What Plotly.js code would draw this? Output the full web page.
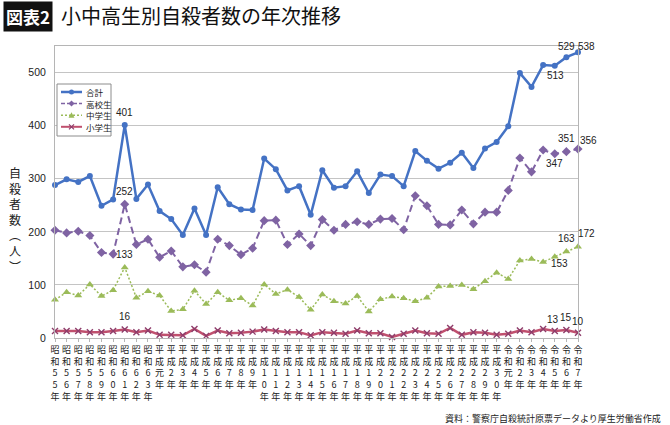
<!DOCTYPE html>
<html>
<head>
<meta charset="utf-8">
<script src="https://cdn.plot.ly/plotly-3.0.1.min.js"></script>
<style>
  html, body { margin: 0; padding: 0; background: #fff; }
  #chart { width: 670px; height: 425px; }
</style>
</head>
<body>
<div id="chart"></div>
<script>
// Years on the horizontal axis (Japanese era names)
const years = [
  '昭和55年','昭和56年','昭和57年','昭和58年','昭和59年','昭和60年','昭和61年','昭和62年','昭和63年',
  '平成元年','平成2年','平成3年','平成4年','平成5年','平成6年','平成7年','平成8年','平成9年','平成10年',
  '平成11年','平成12年','平成13年','平成14年','平成15年','平成16年','平成17年','平成18年','平成19年','平成20年',
  '平成21年','平成22年','平成23年','平成24年','平成25年','平成26年','平成27年','平成28年','平成29年','平成30年',
  '令和元年','令和2年','令和3年','令和4年','令和5年','令和6年','令和7年'
];

// Number of suicides per year
const total = [
  288, 299, 294, 305, 249, 261, 401, 262, 289,
  239, 224, 194, 244, 194, 284, 252, 242, 241, 338,
  318, 278, 286, 232, 316, 283, 286, 314, 273, 308,
  305, 286, 352, 334, 319, 330, 349, 320, 357, 369,
  399, 499, 473, 514, 513, 529, 538
];
const highSchool = [
  203, 198, 201, 193, 161, 158, 252, 176, 186,
  152, 164, 134, 138, 124, 186, 174, 157, 169, 221,
  222, 176, 196, 174, 223, 203, 214, 219, 214, 224,
  225, 204, 268, 249, 214, 213, 241, 215, 237, 237,
  278, 339, 313, 354, 347, 351, 356
];
const juniorHigh = [
  72, 86, 80, 101, 79, 90, 133, 76, 88,
  80, 51, 54, 89, 64, 86, 71, 75, 61, 101,
  83, 91, 77, 53, 82, 69, 65, 79, 50, 73,
  78, 75, 69, 76, 97, 98, 100, 92, 107, 123,
  111, 146, 149, 143, 153, 163, 172
];
const elementary = [
  13, 13, 13, 11, 11, 13, 16, 11, 14,
  6, 6, 5, 17, 4, 14, 9, 10, 12, 16,
  13, 11, 11, 5, 11, 10, 8, 14, 9, 9,
  2, 8, 14, 9, 8, 19, 6, 11, 10, 6,
  8, 14, 11, 17, 13, 15, 10
];

const seriesNames = ['合計', '高校生', '中学生', '小学生'];

// Vertical tick text: one character per line
const tickText = years.map(s => s.split('').join('<br>'));

const C_TOTAL = '#4472c4';
const C_HIGH = '#7f63a3';
const C_JR = '#9bbb59';
const C_ELEM = '#c0506e';
const C_ELEM_MK = '#8e3d6b';

const NUM_FONT = 'Liberation Sans Narrow, Liberation Sans, Arial, sans-serif';
const JP_FONT = 'Noto Sans CJK JP, Noto Sans, sans-serif';

const seriesValues = [total, highSchool, juniorHigh, elementary];

const traces = [
  {
    x: years, y: total, name: seriesNames[0], type: 'scatter', mode: 'lines+markers',
    line: { color: C_TOTAL, width: 2.5 },
    marker: { symbol: 'circle', size: 6, color: C_TOTAL },
    cliponaxis: false
  },
  {
    x: years, y: highSchool, name: seriesNames[1], type: 'scatter', mode: 'lines+markers',
    line: { color: C_HIGH, width: 2, dash: '7px,4px' },
    marker: { symbol: 'diamond', size: 7, color: C_HIGH },
    cliponaxis: false
  },
  {
    x: years, y: juniorHigh, name: seriesNames[2], type: 'scatter', mode: 'lines+markers',
    line: { color: C_JR, width: 1.5, dash: '2px,2px' },
    marker: { symbol: 'triangle-up', size: 7, color: C_JR },
    cliponaxis: false
  },
  {
    x: years, y: elementary, name: seriesNames[3], type: 'scatter', mode: 'lines+markers',
    line: { color: C_ELEM, width: 2.5 },
    marker: { symbol: 'x-thin', size: 6, color: C_ELEM_MK, line: { width: 1.4, color: C_ELEM_MK } },
    cliponaxis: false
  }
];

// Value labels: [series index, year index, xshift, yshift]
const valueLabels = [
  [0, 6, 0, 13], [1, 6, 0, 13], [2, 6, 0, 13], [3, 6, 0, 13],
  [0, 43, 1, -10], [0, 44, 0, 11], [0, 45, 8, 6],
  [1, 43, 0, -10], [1, 44, 0, 13], [1, 45, 10, 9],
  [2, 43, 5, -7], [2, 44, 0, 13], [2, 45, 8, 13],
  [3, 43, -2, 12], [3, 44, 0, 13], [3, 45, 0, 11]
];

// Plot-area pixel frame, used for placing page decorations
const L = 55, R = 578, T = 46, B = 338;
const px = x => (x - L) / (R - L);
const py = y => (B - y) / (B - T);

const annotations = valueLabels.map(([s, i, xs, ys]) => ({
  x: years[i], y: seriesValues[s][i], xref: 'x', yref: 'y',
  text: String(seriesValues[s][i]), showarrow: false,
  xshift: xs, yshift: ys,
  font: { family: NUM_FONT, size: 10, color: '#222' }
}));

// Heading badge
annotations.push({
  xref: 'paper', yref: 'paper', x: px(3), y: py(17), xanchor: 'left', yanchor: 'middle',
  text: '<b>図表2</b>', showarrow: false, bgcolor: '#111', borderpad: 2,
  font: { family: JP_FONT, size: 17, color: '#fff' }
});
// Vertical axis title
annotations.push({
  xref: 'paper', yref: 'paper', x: px(15), y: py(219), xanchor: 'center', yanchor: 'middle',
  text: '自<br>殺<br>者<br>数<br>︵<br>人<br>︶', showarrow: false,
  font: { family: JP_FONT, size: 12, color: '#222' }
});
// Source note
annotations.push({
  xref: 'paper', yref: 'paper', x: px(663), y: py(418), xanchor: 'right', yanchor: 'middle',
  text: '資料：警察庁自殺統計原票データより厚生労働省作成', showarrow: false,
  font: { family: JP_FONT, size: 9, color: '#222' }
});

// Legend box
const shapes = [{
  type: 'rect', xref: 'paper', yref: 'paper', layer: 'above',
  x0: px(57), x1: px(111), y0: py(136), y1: py(84),
  line: { color: '#8c8c8c', width: 1 }, fillcolor: '#fff'
}];
const legendRows = [92, 103.6, 115.2, 126.8];
const legendStyles = [
  { color: C_TOTAL, width: 2.5, dash: 'solid' },
  { color: C_HIGH, width: 1.5, dash: '4px,2px' },
  { color: C_JR, width: 1.5, dash: '2px,2px' },
  { color: C_ELEM, width: 2, dash: 'solid' }
];
legendRows.forEach((y, k) => {
  shapes.push({
    type: 'line', xref: 'paper', yref: 'paper', layer: 'above',
    x0: px(61), x1: px(82), y0: py(y), y1: py(y),
    line: legendStyles[k]
  });
  annotations.push({
    xref: 'paper', yref: 'paper', x: px(84), y: py(y), xanchor: 'left', yanchor: 'middle',
    text: seriesNames[k], showarrow: false,
    font: { family: JP_FONT, size: 8.5, color: '#222' }
  });
});
const cx = 71.5;
shapes.push({
  type: 'circle', xref: 'paper', yref: 'paper', layer: 'above',
  x0: px(cx - 2.5), x1: px(cx + 2.5), y0: py(legendRows[0] + 2.5), y1: py(legendRows[0] - 2.5),
  fillcolor: C_TOTAL, line: { width: 0 }
});
{
  const y = legendRows[1];
  shapes.push({
    type: 'path', xref: 'paper', yref: 'paper', layer: 'above',
    path: `M${px(cx)},${py(y - 3)} L${px(cx + 3)},${py(y)} L${px(cx)},${py(y + 3)} L${px(cx - 3)},${py(y)} Z`,
    fillcolor: C_HIGH, line: { width: 0 }
  });
}
{
  const y = legendRows[2];
  shapes.push({
    type: 'path', xref: 'paper', yref: 'paper', layer: 'above',
    path: `M${px(cx)},${py(y - 3)} L${px(cx + 3)},${py(y + 2.5)} L${px(cx - 3)},${py(y + 2.5)} Z`,
    fillcolor: C_JR, line: { width: 0 }
  });
}
{
  const y = legendRows[3];
  shapes.push({
    type: 'path', xref: 'paper', yref: 'paper', layer: 'above',
    path: `M${px(cx - 2.5)},${py(y - 2.5)} L${px(cx + 2.5)},${py(y + 2.5)} M${px(cx + 2.5)},${py(y - 2.5)} L${px(cx - 2.5)},${py(y + 2.5)}`,
    line: { color: C_ELEM_MK, width: 1.2 }
  });
}

const layout = {
  width: 670, height: 425,
  margin: { l: L, r: 670 - R, t: T, b: 425 - B, pad: 0 },
  paper_bgcolor: '#fff', plot_bgcolor: '#fff',
  showlegend: false,
  title: {
    text: '小中高生別自殺者数の年次推移',
    x: 61 / 670, xanchor: 'left', xref: 'container',
    y: 1 - 17 / 425, yanchor: 'middle', yref: 'container',
    font: { family: JP_FONT, size: 20, color: '#111' }
  },
  xaxis: {
    type: 'category',
    range: [0, years.length - 1],
    tickvals: years, ticktext: tickText,
    tickangle: 0,
    tickfont: { family: JP_FONT, size: 9, color: '#222' },
    ticks: 'outside', ticklen: 3, tickcolor: '#b5b5b5',
    showgrid: false,
    showline: true, linecolor: '#b5b5b5', linewidth: 1, mirror: true,
    zeroline: false, fixedrange: true
  },
  yaxis: {
    range: [0, 550],
    tickvals: [0, 100, 200, 300, 400, 500],
    tickfont: { family: NUM_FONT, size: 10.5, color: '#222' },
    ticks: '', ticklabelstandoff: 6,
    showgrid: true, gridcolor: '#c4c4c4', gridwidth: 1,
    showline: true, linecolor: '#b5b5b5', linewidth: 1, mirror: true,
    zeroline: false, fixedrange: true
  },
  annotations: annotations,
  shapes: shapes
};

Plotly.newPlot('chart', traces, layout, { displayModeBar: false, staticPlot: true });
</script>
</body>
</html>
